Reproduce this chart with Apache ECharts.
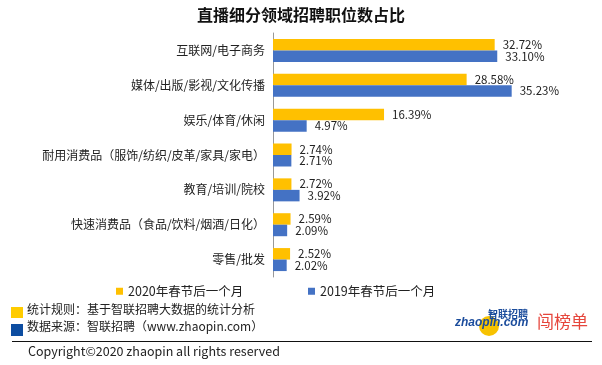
<!DOCTYPE html>
<html>
<head>
<meta charset="utf-8">
<script src="https://cdn.jsdelivr.net/npm/echarts@6/dist/echarts.min.js"></script>
<style>html,body{margin:0;padding:0;background:#fff;}#c{width:602px;height:365px;}</style>
</head>
<body>
<div id="c"></div>
<script>
const categories = ['互联网/电子商务','媒体/出版/影视/文化传播','娱乐/体育/休闲','耐用消费品（服饰/纺织/皮革/家具/家电）','教育/培训/院校','快速消费品（食品/饮料/烟酒/日化）','零售/批发'];
const values2020 = [32.72, 28.58, 16.39, 2.74, 2.72, 2.59, 2.52];
const values2019 = [33.10, 35.23, 4.97, 2.71, 3.92, 2.09, 2.02];
const seriesNames = ['2020年春节后一个月','2019年春节后一个月'];
const FONT = '"Noto Sans CJK SC", "Noto Sans", sans-serif';
const chart = echarts.init(document.getElementById('c'));
const lbl = {show:true, position:'right', distance:8, fontSize:11.5, color:'#222', fontFamily:FONT, formatter: p => p.value.toFixed(2)+'%'};
chart.setOption({
  animation:false,
  title:{text:'直播细分领域招聘职位数占比', left:'center', top:2, textStyle:{fontSize:16, fontWeight:'bold', color:'#111', fontFamily:FONT}},
  legend:[
    {data:[seriesNames[0]], left:116, top:285, padding:0, itemWidth:7, itemHeight:7, icon:'rect', itemGap:0, textStyle:{fontSize:12.5, color:'#222', fontFamily:FONT}},
    {data:[seriesNames[1]], left:308, top:285, padding:0, itemWidth:7, itemHeight:7, icon:'rect', itemGap:0, textStyle:{fontSize:12.5, color:'#222', fontFamily:FONT}}
  ],
  grid:{left:273, top:33, width:271, height:244},
  xAxis:{type:'value', min:0, max:40, show:false},
  yAxis:{type:'category', data:categories, inverse:true,
    axisLine:{lineStyle:{color:'#999'}}, axisTick:{length:4, lineStyle:{color:'#999'}},
    axisLabel:{fontSize:12, color:'#222', margin:8, fontFamily:FONT}},
  series:[
    {name:seriesNames[0], type:'bar', data:values2020, barWidth:11.5, barGap:'0%', itemStyle:{color:'#FFC000'}, label:lbl},
    {name:seriesNames[1], type:'bar', data:values2019, barWidth:11.5, barGap:'0%', itemStyle:{color:'#4472C4'}, label:lbl}
  ],
  graphic:[
    {type:'rect', shape:{x:11, y:307, width:12, height:11}, style:{fill:'#FFCC00'}},
    {type:'rect', shape:{x:11, y:324, width:12, height:12}, style:{fill:'#0D4DA1'}},
    {type:'text', x:27, y:309, style:{text:'统计规则：基于智联招聘大数据的统计分析', fontSize:12, fill:'#222', fontFamily:FONT, verticalAlign:'middle'}},
    {type:'text', x:27, y:326, style:{text:'数据来源：智联招聘（www.zhaopin.com）', fontSize:12, fill:'#222', fontFamily:FONT, verticalAlign:'middle'}},
    {type:'line', shape:{x1:12, y1:341.5, x2:592, y2:341.5}, style:{stroke:'#111', lineWidth:1}},
    {type:'text', x:28, y:351, style:{text:'Copyright©2020 zhaopin all rights reserved', fontSize:12.5, fill:'#222', fontFamily:FONT, verticalAlign:'middle'}},
    {type:'circle', shape:{cx:489, cy:326, r:10}, style:{fill:'#F7C200'}},
    {type:'text', x:455, y:323, style:{text:'zhaopin.com', fontSize:12, fontWeight:'bold', fontStyle:'italic', fill:'#1B4C9C', fontFamily:'"Liberation Sans", sans-serif', verticalAlign:'middle'}},
    {type:'text', x:488, y:314, style:{text:'智联招聘', fontSize:10, fontWeight:'bold', fill:'#1B4C9C', fontFamily:FONT, verticalAlign:'middle'}},
    {type:'text', x:537, y:322, style:{text:'闯榜单', fontSize:17, fill:'#E6463C', fontFamily:FONT, verticalAlign:'middle'}}
  ]
});
</script>
</body>
</html>
